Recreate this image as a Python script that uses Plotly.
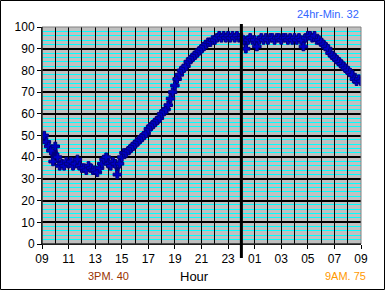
import plotly.graph_objects as go

# ---- data -------------------------------------------------------------
# readings every 10 minutes starting at 09:00, ending 09:00 next day
minutes = list(range(0, 1441, 10))
values = [
    49, 50, 47, 45, 43, 38, 45, 40, 36, 37, 36, 38,      # 09:00-10:50
    37, 38, 36, 37, 39, 36,                              # 11:00
    35, 35, 34, 36, 35, 34,                              # 12:00
    34, 33, 35, 37, 39, 40,                              # 13:00
    37, 36, 38, 37, 32, 37,                              # 14:00
    40, 42, 42, 43, 44, 45,                              # 15:00
    46, 47, 48, 49, 50, 51,                              # 16:00
    53, 54, 55, 56, 57, 58,                              # 17:00
    60, 61, 62, 64, 67, 70,                              # 18:00
    73, 76, 78, 80, 81, 82,                              # 19:00
    84, 85, 86, 87, 88, 89,                              # 20:00
    90, 91, 92, 93, 93, 94,                              # 21:00
    94, 95, 96, 95, 96, 95, 96, 95, 96, 95, 96, 95,      # 22:00-23:50
    95, 94, 90, 94, 95, 94, 94, 91, 94, 95, 94, 95,      # 00:00-01:50
    94, 95, 95, 94, 95, 95, 94, 95, 95, 94, 95, 94,      # 02:00-03:50
    95, 94, 95, 94, 91, 95, 96, 96, 95, 96, 94, 94,      # 04:00-05:50
    93, 92, 91, 90, 88, 87,                              # 06:00
    86, 85, 84, 83, 82, 81,                              # 07:00
    80, 79, 78, 76, 75, 76,                              # 08:00
    75,                                                  # 09:00
]
tick_hours = [0, 2, 4, 6, 8, 10, 12, 14, 16, 18, 20, 22, 24]
tick_labels = ["09", "11", "13", "15", "17", "19", "21", "23",
               "01", "03", "05", "07", "09"]
minor_levels = [v for v in range(2, 100, 2) if v % 10 != 0]
hour_lines = list(range(1, 24))
midnight_hour = 15
min_text = "24hr-Min. 32"
pm_text = "3PM. 40"
am_text = "9AM. 75"
x_title = "Hour"

hours = [m / 60 for m in minutes]

# ---- layout geometry ----------------------------------------------------
W, H = 385, 290
L, R, T, B = 42, 24, 27, 46
PW, PH = W - L - R, H - T - B


def px_x(px):
    return (px - L) / PW


def px_y(py):
    return (H - B - py) / PH


def snap_hour(h):
    # put a 1px grid line on a pixel centre so it renders crisp
    px = int(L + h * PW / 24) + 0.5
    return (px - L) * 24 / PW


def snap_level(v):
    py = int(H - B - v * PH / 100) + 0.5
    return (H - B - py) * 100 / PH


fig = go.Figure()

# cyan minor horizontal grid
gx, gy = [], []
for lv in minor_levels:
    sy = snap_level(lv)
    gx += [0, 24, None]
    gy += [sy, sy, None]
fig.add_trace(go.Scatter(x=gx, y=gy, mode="lines",
                         line=dict(color="#00FFFF", width=1),
                         showlegend=False, hoverinfo="skip"))

# black hourly vertical grid (over the cyan lines)
vx, vy = [], []
for hl in hour_lines:
    sx = snap_hour(hl)
    vx += [sx, sx, None]
    vy += [0, 100, None]
fig.add_trace(go.Scatter(x=vx, y=vy, mode="lines",
                         line=dict(color="black", width=1),
                         showlegend=False, hoverinfo="skip"))

fig.add_trace(go.Scatter(
    x=hours, y=values, mode="lines+markers",
    line=dict(color="#000080", width=3),
    marker=dict(symbol="cross", size=7, color="#0000C8",
                line=dict(color="#000080", width=1)),
    showlegend=False, hoverinfo="skip",
))

fig.update_layout(
    width=W, height=H,
    margin=dict(l=L, r=R, t=T, b=B, pad=0),
    paper_bgcolor="white",
    plot_bgcolor="#C0C0C0",
    font=dict(family="Liberation Sans, Arial, sans-serif", size=12, color="black"),
    xaxis=dict(
        range=[0, 24], tickvals=tick_hours, ticktext=tick_labels,
        ticks="outside", ticklen=4, tickcolor="black", tickwidth=1,
        showgrid=False, zeroline=False,
        showline=True, linecolor="black", linewidth=1,
        tickfont=dict(size=12),
        fixedrange=True,
    ),
    yaxis=dict(
        range=[0, 100], dtick=10, tick0=0,
        ticks="outside", ticklen=4, tickcolor="black", tickwidth=1,
        showgrid=True, gridcolor="black", gridwidth=2,
        zeroline=False,
        showline=True, linecolor="black", linewidth=1,
        tickfont=dict(size=12),
        fixedrange=True,
    ),
)

# plot frame (grey top/right) and outer image border
fig.add_shape(type="rect", xref="paper", yref="paper", x0=0, x1=1, y0=0, y1=1,
              line=dict(color="#808080", width=1), layer="above")
fig.add_shape(type="line", xref="paper", yref="paper", x0=0, x1=0, y0=0, y1=1,
              line=dict(color="black", width=1), layer="above")
fig.add_shape(type="line", xref="paper", yref="paper", x0=0, x1=1, y0=0, y1=0,
              line=dict(color="black", width=1), layer="above")
fig.add_shape(type="rect", xref="paper", yref="paper",
              x0=px_x(0.5), x1=px_x(W - 0.5), y0=px_y(H - 0.5), y1=px_y(0.5),
              line=dict(color="black", width=1), layer="above")

# midnight divider
mx = midnight_hour / 24
fig.add_shape(type="line", xref="paper", yref="paper", x0=mx, x1=mx,
              y0=px_y(258), y1=px_y(24),
              line=dict(color="black", width=3), layer="above")

for txt, xp, yp, size, col in [
    (min_text, 328, 14, 11, "#3366FF"),
    (pm_text, 108, 276, 11, "#993300"),
    (x_title, 194, 276, 13, "black"),
    (am_text, 345, 276, 11, "#FF9900"),
]:
    fig.add_annotation(text=txt, xref="paper", yref="paper",
                       x=px_x(xp), y=px_y(yp), xanchor="center", yanchor="middle",
                       showarrow=False, font=dict(size=size, color=col))

fig.write_html("out.html", config=dict(displayModeBar=False))
